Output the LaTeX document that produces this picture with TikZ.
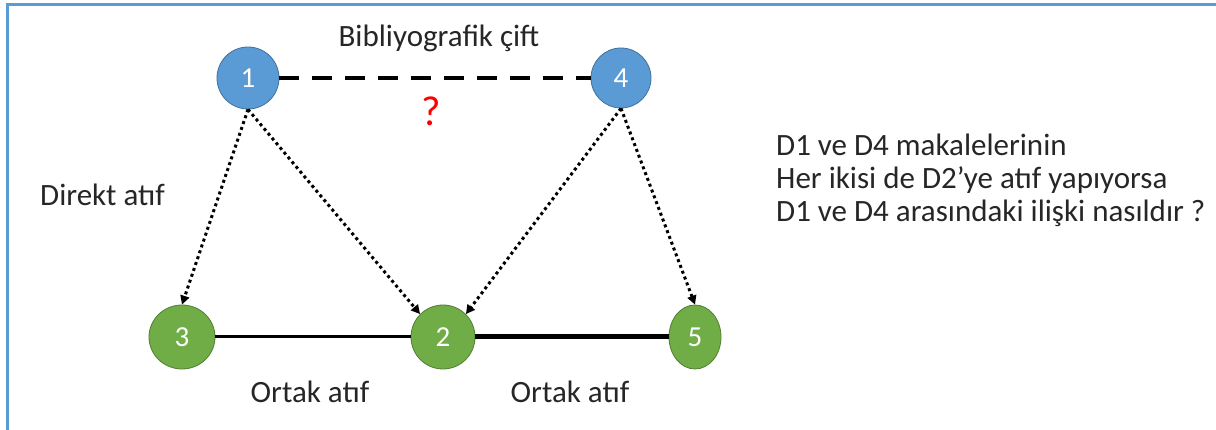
\documentclass[tikz,border=0pt]{standalone}
\usepackage{fontspec}
\setmainfont{Carlito}
\usetikzlibrary{arrows.meta,shapes.geometric}
\definecolor{nblue}{HTML}{5B9BD5}
\definecolor{nbluedark}{HTML}{41719C}
\definecolor{ngreen}{HTML}{70AD47}
\definecolor{ngreendark}{HTML}{507E32}
\definecolor{frameblue}{HTML}{5B9BD5}
\tikzset{
  bnode/.style={circle, fill=nblue, draw=nbluedark, line width=0.8pt, minimum size=62pt, inner sep=0pt, text=white, font=\fontsize{29}{30}\selectfont},
  gnode/.style={ellipse, fill=ngreen, draw=ngreendark, line width=0.8pt, inner sep=0pt, text=white, font=\fontsize{29}{30}\selectfont},
  citearrow/.style={line width=3pt, dash pattern=on 3pt off 3.2pt, -{Triangle[length=9pt,width=9pt]}},
  lbl/.style={font=\fontsize{31}{33}\selectfont, text=black!85}
}
\begin{document}
\begin{tikzpicture}[x=1pt,y=-1pt]
\useasboundingbox (0,0) rectangle (1216,430);
\fill[white] (0,0) rectangle (1216,430);
\fill[frameblue] (5.5,3.5) rectangle (1216,6.5);
\fill[frameblue] (5.5,3.5) rectangle (8.5,430);
\node[bnode] (n1) at (248,78) {1};
\node[bnode, minimum size=60pt] (n4) at (621,78) {4};
\node[gnode, minimum width=66pt, minimum height=64pt] (n3) at (182,337) {3};
\node[gnode, minimum width=64pt, minimum height=64pt] (n2) at (443,337) {2};
\node[gnode, minimum width=52pt, minimum height=64pt] (n5) at (695,337) {5};
\draw[line width=4pt, dash pattern=on 20pt off 13pt] (n1.east) -- (n4.west);
\draw[line width=3pt] (n3) -- (n2);
\draw[line width=5pt] (n2) -- (n5);
\draw[citearrow] (n1.south) -- (n3.north);
\draw[citearrow] (n1.south) -- (n2.north west);
\draw[citearrow] (n4.south) -- (n2.north east);
\draw[citearrow] (n4.south) -- (n5.north);
\node[lbl] (bc) at (439,38) {Bibliyografik çift};
\node[text=red, font=\fontsize{42}{44}\selectfont] (q) at (431,111) {?};
\node[lbl, anchor=west, inner sep=0pt] (da) at (40,195) {Direkt atıf};
\node[lbl] (oa1) at (310,392) {Ortak atıf};
\node[lbl] (oa2) at (570,392) {Ortak atıf};
\node[font=\fontsize{31}{33}\selectfont, text=black!85, align=left, anchor=north west, inner sep=0pt] (q2) at (776,134) {D1 ve D4 makalelerinin\\Her ikisi de D2’ye atıf yapıyorsa\\D1 ve D4 arasındaki ilişki nasıldır ?};
\end{tikzpicture}
\end{document}
